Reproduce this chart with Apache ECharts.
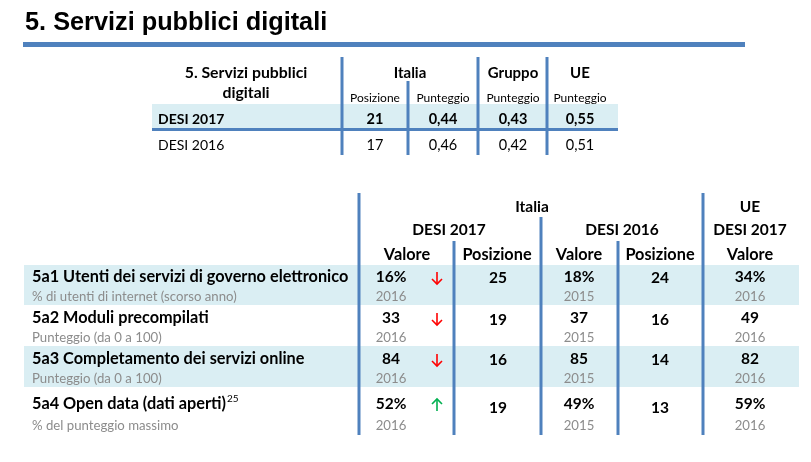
<!DOCTYPE html>
<html><head><meta charset="utf-8">
<script src="https://cdn.jsdelivr.net/npm/echarts@6/dist/echarts.min.js"></script>
<style>html,body{margin:0;padding:0;background:#fff}#c{width:811px;height:462px}</style>
</head><body><div id="c"></div>
<script>
// ---------------- DATA ----------------
const pageTitle = '5. Servizi pubblici digitali';

// summary table
const summaryTitle = ['5. Servizi pubblici', 'digitali'];
const summaryGroups = ['Italia', 'Gruppo', 'UE'];
const summaryCols = ['Posizione', 'Punteggio', 'Punteggio', 'Punteggio'];
const summaryRows = ['DESI 2017', 'DESI 2016'];
const italiaPosizione = [21, 17];
const italiaPunteggio = [0.44, 0.46];
const gruppoPunteggio = [0.43, 0.42];
const uePunteggio = [0.55, 0.51];

// indicator table
const headGroups = ['Italia', 'UE'];
const headYears = ['DESI 2017', 'DESI 2016', 'DESI 2017'];
const headCols = ['Valore', 'Posizione', 'Valore', 'Posizione', 'Valore'];
const indicators = ['5a1 Utenti dei servizi di governo elettronico', '5a2 Moduli precompilati',
  '5a3 Completamento dei servizi online', '5a4 Open data (dati aperti)'];
const indicatorNotes = ['% di utenti di internet (scorso anno)', 'Punteggio (da 0 a 100)',
  'Punteggio (da 0 a 100)', '% del punteggio massimo'];
const indicatorFootnotes = ['', '', '', '25'];
const valueUnits = ['%', '', '', '%'];
const italia2017Valore = [16, 33, 84, 52];
const italia2017Anno = ['2016', '2016', '2016', '2016'];
const italia2017Trend = ['down', 'down', 'down', 'up'];
const italia2017Posizione = [25, 19, 16, 19];
const italia2016Valore = [18, 37, 85, 49];
const italia2016Anno = ['2015', '2015', '2015', '2015'];
const italia2016Posizione = [24, 16, 14, 13];
const ue2017Valore = [34, 49, 82, 59];
const ue2017Anno = ['2016', '2016', '2016', '2016'];

// ---------------- STYLE / LAYOUT ----------------
const FONT = 'Lato, "Open Sans", sans-serif';
const BLUE = '#4F81BD', BAND = '#DAEEF3', GRAY = '#8C8C8C', INK = '#000000';
const RED = '#FF0000', GREEN = '#00B050';

const LT = { // summary table layout
  x0: 152, x1: 618,
  vlines: [[342, 57, 155], [478, 57, 155], [547, 57, 155], [408, 81, 155]],
  titleX: 246, titleY: [73, 93],
  groupX: [410, 513, 580], groupY: 73,
  colX: [375, 443, 513, 580], colY: 98,
  band: [104, 128], sep: [128, 131],
  rowY: [119, 145], labelX: 158
};
const LB = { // indicator table layout
  x0: 24, x1: 799,
  vlines: [[359, 193, 435], [703, 193, 435], [541, 217, 435], [454, 241, 435], [618, 241, 435]],
  groupX: [532, 750], groupY: 207,
  yearX: [449, 622, 750], yearY: 230,
  colX: [407, 497, 579, 660, 750], colY: 255,
  bands: [[265, 305], null, [346, 387], null],
  mainY: [277, 318, 359, 404], subY: [297, 338, 379, 426], posY: [278, 320, 360, 408],
  labelX: 32, valX: 391, arrowX: 437, pos17X: 498, val16X: 579, pos16X: 660, ueX: 750
};
const LABEL_SIZE = 16.3, NOTE_SIZE = 13.2;

const fmt2 = v => v.toFixed(2).replace('.', ',');
const measure = (() => { const c = document.createElement('canvas').getContext('2d');
  return (s, font) => { c.font = font; return c.measureText(s).width; }; })();

function txt(api, x, y, s, o) {
  const p = api.coord([x, y]);
  return { type: 'text', x: p[0], y: p[1], style: {
    text: String(s), fill: o.fill || INK, fontFamily: o.family || FONT, fontSize: o.size,
    fontWeight: o.bold ? 'bold' : 'normal', align: o.align || 'center', verticalAlign: 'middle' } };
}
function box(api, x0, y0, x1, y1, fill) {
  const a = api.coord([x0, y0]), b = api.coord([x1, y1]);
  return { type: 'rect', shape: { x: a[0], y: a[1], width: b[0] - a[0], height: b[1] - a[1] }, style: { fill } };
}
function vline(api, l) { return box(api, l[0] - 1.5, l[1], l[0] + 1.5, l[2], BLUE); }
function arrow(api, x, y, dir) {
  const s = dir === 'up' ? -1 : 1, col = dir === 'up' ? GREEN : RED;
  const P = (a, b) => api.coord([a, b]);
  return { type: 'group', children: [
    { type: 'polyline', shape: { points: [P(x, y - 6 * s), P(x, y + 6 * s)] }, style: { stroke: col, lineWidth: 1.6, fill: null } },
    { type: 'polyline', shape: { points: [P(x - 5, y + 1 * s), P(x, y + 6 * s), P(x + 5, y + 1 * s)] }, style: { stroke: col, lineWidth: 1.6, fill: null } }
  ] };
}

// ---------------- RENDERERS ----------------
function renderPage(params, api) {
  return { type: 'group', children: [
    txt(api, 25, 23, pageTitle, { size: 25.3, bold: true, align: 'left', family: '"Liberation Sans", Arial, sans-serif' }),
    box(api, 23, 42, 745, 47, BLUE)
  ] };
}
function renderSummaryHead(params, api) {
  const ch = [];
  summaryTitle.forEach((t, i) => ch.push(txt(api, LT.titleX, LT.titleY[i], t, { size: 15.8, bold: true })));
  summaryGroups.forEach((t, i) => ch.push(txt(api, LT.groupX[i], LT.groupY, t, { size: 15, bold: true })));
  summaryCols.forEach((t, i) => ch.push(txt(api, LT.colX[i], LT.colY, t, { size: 12 })));
  return { type: 'group', children: ch };
}
function renderSummaryRow(params, api) {
  const i = api.value(0), y = LT.rowY[i], bold = i === 0, ch = [];
  if (i === 0) {
    ch.push(box(api, LT.x0, LT.band[0], LT.x1, LT.band[1], BAND));
    ch.push(box(api, LT.x0, LT.sep[0], LT.x1, LT.sep[1], BLUE));
  }
  ch.push(txt(api, LT.labelX, y, summaryRows[i], { size: 14, bold, align: 'left' }));
  ch.push(txt(api, LT.colX[0], y, italiaPosizione[i], { size: 14.5, bold }));
  ch.push(txt(api, LT.colX[1], y, fmt2(italiaPunteggio[i]), { size: 14.5, bold }));
  ch.push(txt(api, LT.colX[2], y, fmt2(gruppoPunteggio[i]), { size: 14.5, bold }));
  ch.push(txt(api, LT.colX[3], y, fmt2(uePunteggio[i]), { size: 14.5, bold }));
  return { type: 'group', children: ch };
}
function renderLines(params, api) {
  return { type: 'group', children: LT.vlines.concat(LB.vlines).map(l => vline(api, l)) };
}
function renderIndHead(params, api) {
  const ch = [];
  headGroups.forEach((t, i) => ch.push(txt(api, LB.groupX[i], LB.groupY, t, { size: 15.5, bold: true })));
  headYears.forEach((t, i) => ch.push(txt(api, LB.yearX[i], LB.yearY, t, { size: 15.5, bold: true })));
  headCols.forEach((t, i) => ch.push(txt(api, LB.colX[i], LB.colY, t, { size: 16.3, bold: true })));
  return { type: 'group', children: ch };
}
function renderIndRow(params, api) {
  const i = api.value(0), ch = [];
  const my = LB.mainY[i], sy = LB.subY[i], py = LB.posY[i];
  if (LB.bands[i]) ch.push(box(api, LB.x0, LB.bands[i][0], LB.x1, LB.bands[i][1], BAND));
  ch.push(txt(api, LB.labelX, my, indicators[i], { size: LABEL_SIZE, bold: true, align: 'left' }));
  if (indicatorFootnotes[i]) {
    const w = measure(indicators[i], 'bold ' + LABEL_SIZE + 'px ' + FONT);
    ch.push(txt(api, LB.labelX + w + 1, my - 5, indicatorFootnotes[i], { size: 10, align: 'left' }));
  }
  ch.push(txt(api, LB.labelX, sy, indicatorNotes[i], { size: NOTE_SIZE, align: 'left', fill: GRAY }));
  ch.push(txt(api, LB.valX, my, italia2017Valore[i] + valueUnits[i], { size: 15.5, bold: true }));
  ch.push(txt(api, LB.valX, sy, italia2017Anno[i], { size: NOTE_SIZE, fill: GRAY }));
  ch.push(arrow(api, LB.arrowX, my + 1, italia2017Trend[i]));
  ch.push(txt(api, LB.pos17X, py, italia2017Posizione[i], { size: 15.5, bold: true }));
  ch.push(txt(api, LB.val16X, my, italia2016Valore[i] + valueUnits[i], { size: 15.5, bold: true }));
  ch.push(txt(api, LB.val16X, sy, italia2016Anno[i], { size: NOTE_SIZE, fill: GRAY }));
  ch.push(txt(api, LB.pos16X, py, italia2016Posizione[i], { size: 15.5, bold: true }));
  ch.push(txt(api, LB.ueX, my, ue2017Valore[i] + valueUnits[i], { size: 15.5, bold: true }));
  ch.push(txt(api, LB.ueX, sy, ue2017Anno[i], { size: NOTE_SIZE, fill: GRAY }));
  return { type: 'group', children: ch };
}

const chart = echarts.init(document.getElementById('c'));
chart.setOption({
  animation: false,
  backgroundColor: '#ffffff',
  grid: { left: 0, right: 0, top: 0, bottom: 0 },
  xAxis: { type: 'value', min: 0, max: 811, show: false },
  yAxis: { type: 'value', min: 0, max: 462, inverse: true, show: false },
  series: [
    { type: 'custom', clip: false, z: 1, data: [[0]], renderItem: renderPage },
    { type: 'custom', clip: false, z: 2, data: summaryRows.map((r, i) => [i]), renderItem: renderSummaryRow },
    { type: 'custom', clip: false, z: 2, data: indicators.map((r, i) => [i]), renderItem: renderIndRow },
    { type: 'custom', clip: false, z: 3, data: [[0]], renderItem: renderSummaryHead },
    { type: 'custom', clip: false, z: 3, data: [[0]], renderItem: renderIndHead },
    { type: 'custom', clip: false, z: 4, data: [[0]], renderItem: renderLines }
  ]
});
</script></body></html>
